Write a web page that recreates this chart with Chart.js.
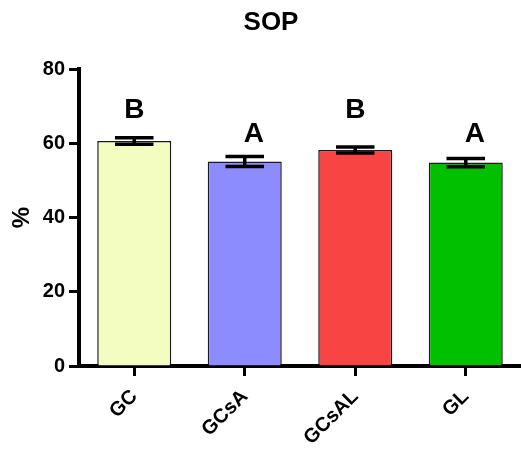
<!DOCTYPE html>
<html>
<head>
<meta charset="utf-8">
<script src="https://cdn.jsdelivr.net/npm/chart.js@4/dist/chart.umd.min.js"></script>
<style>
  html, body { margin: 0; padding: 0; background: #fff; }
  #wrap { width: 521px; height: 450px; }
</style>
</head>
<body>
<div id="wrap"><canvas id="c" width="521" height="450"></canvas></div>
<script>
// Groups and their SOP means (%) with error bar half-widths
const categories = ['GC', 'GCsA', 'GCsAL', 'GL'];
const means = [60.6, 55.1, 58.2, 54.8];
const errors = [0.85, 1.35, 0.8, 1.1];
const groupLetters = ['B', 'A', 'B', 'A'];
const yTicks = [0, 20, 40, 60, 80];
const barColors = ['#F3FDC1', '#8C8CFF', '#F94444', '#00C000'];

const FONT = '"Liberation Sans", Arial, Helvetica, sans-serif';

// Error bars (mean ± error) with flat caps
const errorBarPlugin = {
  id: 'errorBars',
  afterDatasetsDraw(chart) {
    const { ctx, scales: { y } } = chart;
    const meta = chart.getDatasetMeta(0);
    ctx.save();
    ctx.strokeStyle = '#000';
    ctx.lineWidth = 3.5;
    ctx.lineCap = 'butt';
    meta.data.forEach((bar, i) => {
      const cx = bar.x;
      const yHi = y.getPixelForValue(means[i] + errors[i]);
      const yLo = y.getPixelForValue(means[i] - errors[i]);
      const half = bar.width * 0.26;
      ctx.beginPath();
      ctx.moveTo(cx, yHi); ctx.lineTo(cx, yLo);
      ctx.moveTo(cx - half, yHi); ctx.lineTo(cx + half, yHi);
      ctx.moveTo(cx - half, yLo); ctx.lineTo(cx + half, yLo);
      ctx.stroke();
    });
    ctx.restore();
  }
};

// Significance letters above the bars
const letterPlugin = {
  id: 'groupLetters',
  afterDatasetsDraw(chart) {
    const { ctx, scales: { y } } = chart;
    const meta = chart.getDatasetMeta(0);
    const level = { B: 69, A: 62.3 };
    const shift = { B: 0, A: 9 };
    ctx.save();
    ctx.fillStyle = '#000';
    ctx.font = 'bold 28px ' + FONT;
    ctx.textAlign = 'center';
    ctx.textBaseline = 'middle';
    meta.data.forEach((bar, i) => {
      const t = groupLetters[i];
      ctx.fillText(t, bar.x + shift[t], y.getPixelForValue(level[t]));
    });
    ctx.restore();
  }
};

// Chart title
const titlePlugin = {
  id: 'sopTitle',
  afterDraw(chart) {
    const { ctx } = chart;
    ctx.save();
    ctx.fillStyle = '#000';
    ctx.font = 'bold 26px ' + FONT;
    ctx.textAlign = 'center';
    ctx.textBaseline = 'middle';
    ctx.fillText('SOP', 271, 23);
    ctx.restore();
  }
};

new Chart(document.getElementById('c'), {
  type: 'bar',
  data: {
    labels: categories,
    datasets: [{
      data: means,
      backgroundColor: barColors,
      borderColor: '#1a1a1a',
      borderWidth: 1.5,
      categoryPercentage: 1,
      barPercentage: 0.67
    }]
  },
  options: {
    responsive: false,
    animation: false,
    devicePixelRatio: 1,
    layout: { padding: { top: 69, right: 0, bottom: 0, left: 0 } },
    plugins: {
      legend: { display: false },
      tooltip: { enabled: false },
      title: { display: false }
    },
    scales: {
      y: {
        min: 0,
        max: 80,
        afterBuildTicks(scale) { scale.ticks = yTicks.map(v => ({ value: v })); },
        afterFit(scale) { scale.width = 79; },
        border: { display: true, color: '#000', width: 4 },
        grid: {
          drawOnChartArea: false,
          drawTicks: true,
          tickLength: 10,
          tickWidth: 3,
          tickColor: '#000'
        },
        ticks: {
          color: '#000',
          padding: 4,
          font: { family: FONT, size: 20, weight: 'bold' }
        },
        title: {
          display: true,
          text: '%',
          color: '#000',
          padding: { top: 8, bottom: 0 },
          font: { family: FONT, size: 24, weight: 'bold' }
        }
      },
      x: {
        afterFit(scale) { scale.height = 84; },
        border: { display: true, color: '#000', width: 4 },
        grid: {
          offset: false,
          drawOnChartArea: false,
          drawTicks: true,
          tickLength: 10,
          tickWidth: 3,
          tickColor: '#000'
        },
        ticks: {
          color: '#000',
          minRotation: 45,
          maxRotation: 45,
          padding: 9,
          font: { family: FONT, size: 20, weight: 'bold' }
        }
      }
    }
  },
  plugins: [errorBarPlugin, letterPlugin, titlePlugin]
});
</script>
</body>
</html>
